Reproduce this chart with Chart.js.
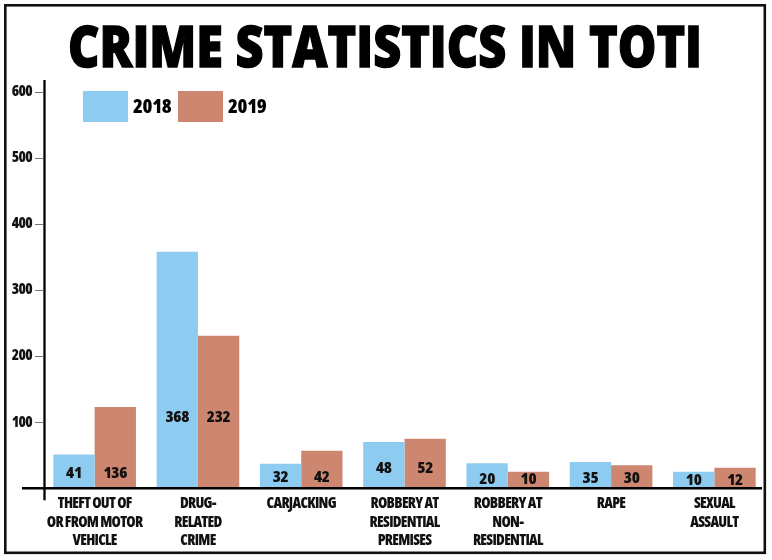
<!DOCTYPE html>
<html>
<head>
<meta charset="utf-8">
<script src="https://cdn.jsdelivr.net/npm/chart.js@4.4.1/dist/chart.umd.min.js"></script>
<style>
  html, body { margin: 0; padding: 0; background: #fff; }
  #wrap { width: 772px; height: 560px; position: relative; }
</style>
</head>
<body>
<div id="wrap"><canvas id="crimeChart"></canvas></div>
<script>
// categories and values
var categories = [
    ['THEFT OUT OF', 'OR FROM MOTOR', 'VEHICLE'],
    ['DRUG-', 'RELATED', 'CRIME'],
    ['CARJACKING'],
    ['ROBBERY AT', 'RESIDENTIAL', 'PREMISES'],
    ['ROBBERY AT', 'NON-', 'RESIDENTIAL'],
    ['RAPE'],
    ['SEXUAL', 'ASSAULT']
];
var seriesNames = ['2018', '2019'];
// bar heights as drawn against the axis
var bars2018 = [51, 358, 37, 70, 38, 40, 25];
var bars2019 = [123, 231, 57, 75, 25, 35, 31];
// numbers printed inside the bars
var printed2018 = [41, 368, 32, 48, 20, 35, 10];
var printed2019 = [136, 232, 42, 52, 10, 30, 12];
var yTicks = [100, 200, 300, 400, 500, 600];

var blue = '#8ecbf1';
var salmon = '#cd8670';
var family = '"Open Sans", "DejaVu Sans Condensed", sans-serif';

// how far above the baseline each group's numbers sit (px)
var labelLift = [15, 71, 11, 20, 9, 10, 8];

function setFont(ctx, weight, size, stretch) {
    ctx.font = weight + ' ' + size + 'px ' + family;
    ctx.fontStretch = stretch || 'condensed';
}

// frame, title, axis lines, legend and in-bar numbers
var decorPlugin = {
    id: 'decor',
    beforeDraw: function (chart) {
        // tighter letters for every text the chart draws
        chart.ctx.letterSpacing = '-0.7px';
    },
    afterDraw: function (chart) {
        var ctx = chart.ctx;
        var area = chart.chartArea;
        var zeroY = chart.scales.y.getPixelForValue(0);

        ctx.save();
        // outer frame
        ctx.strokeStyle = '#111';
        ctx.lineWidth = 2.6;
        ctx.strokeRect(5.3, 5.3, 759.5, 547.5);

        // title, squeezed to the reference width
        ctx.letterSpacing = '0px';
        ctx.fillStyle = '#000';
        ctx.strokeStyle = '#000';
        setFont(ctx, '800', 57, 'normal');
        ctx.textAlign = 'center';
        ctx.textBaseline = 'alphabetic';
        ctx.lineWidth = 1.4;
        ctx.fillText('CRIME STATISTICS IN TOTI', 385, 67, 634);
        ctx.strokeText('CRIME STATISTICS IN TOTI', 385, 67, 634);

        // y axis line
        ctx.lineWidth = 2.3;
        ctx.beginPath();
        ctx.moveTo(area.left + 1.5, area.top - 12);
        ctx.lineTo(area.left + 1.5, zeroY + 12);
        ctx.stroke();
        // x axis line
        ctx.lineWidth = 2.6;
        ctx.beginPath();
        ctx.moveTo(area.left - 21, zeroY);
        ctx.lineTo(area.right - 4, zeroY);
        ctx.stroke();

        // legend
        var lx = area.left + 40;
        var ly = area.top - 1;
        ctx.letterSpacing = '-0.3px';
        setFont(ctx, '800', 20);
        ctx.textAlign = 'left';
        ctx.textBaseline = 'middle';
        chart.data.datasets.forEach(function (ds, i) {
            var bx = lx + i * 95;
            ctx.fillStyle = ds.backgroundColor;
            ctx.fillRect(bx, ly, 45, 31);
            ctx.fillStyle = '#000';
            ctx.fillText(ds.label, bx + 50, ly + 16);
        });

        // numbers inside bars
        setFont(ctx, '800', 16.5);
        ctx.textAlign = 'center';
        chart.data.datasets.forEach(function (ds, i) {
            var meta = chart.getDatasetMeta(i);
            meta.data.forEach(function (bar, j) {
                ctx.fillStyle = '#111';
                ctx.fillText(String(ds.printed[j]), bar.x, zeroY - labelLift[j]);
            });
        });
        ctx.restore();
    }
};

var ctx = document.getElementById('crimeChart').getContext('2d');
var crimeChart = new Chart(ctx, {
    type: 'bar',
    data: {
        labels: categories,
        datasets: [
            { label: seriesNames[0], data: bars2018, printed: printed2018, backgroundColor: blue },
            { label: seriesNames[1], data: bars2019, printed: printed2019, backgroundColor: salmon }
        ]
    },
    options: {
        responsive: true,
        maintainAspectRatio: false,
        animation: false,
        layout: { padding: { top: 92, right: 6, bottom: 0, left: 0 } },
        plugins: {
            legend: { display: false },
            title: { display: false },
            tooltip: { enabled: false }
        },
        datasets: {
            bar: { categoryPercentage: 0.8, barPercentage: 1.0 }
        },
        scales: {
            x: {
                grid: { display: false },
                border: { display: false },
                ticks: {
                    color: '#111',
                    padding: -2,
                    maxRotation: 0,
                    autoSkip: false,
                    font: { family: family, weight: '800 condensed', size: 15, lineHeight: '18.7px' }
                },
                afterFit: function (scale) { scale.height = 71.7; }
            },
            y: {
                min: 0,
                max: 600,
                afterBuildTicks: function (scale) {
                    scale.ticks = [{ value: 0 }].concat(yTicks.map(function (v) { return { value: v }; }));
                },
                grid: { drawOnChartArea: false, drawTicks: true, tickLength: 8, color: '#777', lineWidth: 1 },
                border: { display: false },
                ticks: {
                    color: '#111',
                    padding: 3,
                    font: { family: family, weight: '800 condensed', size: 15 },
                    callback: function (v) { return v === 0 ? '' : v; }
                },
                afterFit: function (scale) { scale.width = 43; }
            }
        }
    },
    plugins: [decorPlugin]
});
</script>
</body>
</html>
